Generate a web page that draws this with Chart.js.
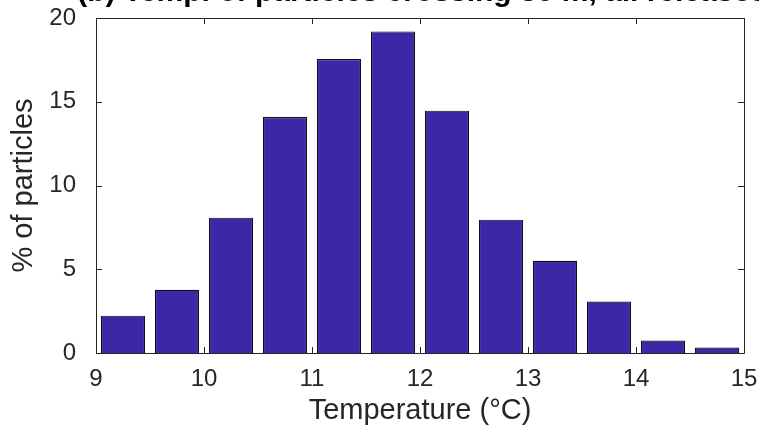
<!DOCTYPE html>
<html>
<head>
<meta charset="utf-8">
<script src="https://cdn.jsdelivr.net/npm/chart.js@4"></script>
<style>
  html, body { margin: 0; padding: 0; background: #fff; }
  #wrap { width: 759px; height: 434px; }
</style>
</head>
<body>
<div id="wrap"><canvas id="tempChart"></canvas></div>
<script>
// histogram bins (centre of each 0.5 °C bin) and % of particles
const binCenters = [9.25, 9.75, 10.25, 10.75, 11.25, 11.75, 12.25, 12.75, 13.25, 13.75, 14.25, 14.75];
const percentParticles = [2.23, 3.78, 8.08, 14.09, 17.55, 19.2, 14.47, 7.96, 5.51, 3.07, 0.75, 0.33];
const xTicks = [9, 10, 11, 12, 13, 14, 15];
const yTicks = [0, 5, 10, 15, 20];
const titleText = '(b) Temp. of particles crossing 30 m, all releases';

const axisColor = '#262626';
const fontFamily = '"Liberation Sans", Arial, Helvetica, sans-serif';

// MATLAB style box with inward ticks, plus a title clipped at the top
const boxTicksPlugin = {
    id: 'boxTicks',
    afterDraw(chart) {
        const {ctx, chartArea: a, scales: {x, y}} = chart;
        const len = 6;
        ctx.save();
        ctx.strokeStyle = axisColor;
        ctx.lineWidth = 1;
        ctx.beginPath();
        ctx.rect(a.left + 0.5, a.top + 0.5, a.right - a.left, a.bottom - a.top);
        xTicks.forEach(v => {
            const px = Math.round(x.getPixelForValue(v)) + 0.5;
            ctx.moveTo(px, a.bottom); ctx.lineTo(px, a.bottom - len);
            ctx.moveTo(px, a.top); ctx.lineTo(px, a.top + len);
        });
        yTicks.forEach(v => {
            const py = Math.round(y.getPixelForValue(v)) + 0.5;
            ctx.moveTo(a.left, py); ctx.lineTo(a.left + len, py);
            ctx.moveTo(a.right, py); ctx.lineTo(a.right - len, py);
        });
        ctx.stroke();

        ctx.fillStyle = '#000';
        ctx.font = 'bold 30px ' + fontFamily;
        ctx.textAlign = 'center';
        ctx.textBaseline = 'alphabetic';
        ctx.fillText(titleText, (a.left + a.right) / 2 + 2, 1);
        ctx.restore();
    }
};

new Chart(document.getElementById('tempChart'), {
    type: 'bar',
    data: {
        datasets: [{
            data: binCenters.map((c, i) => ({x: c, y: percentParticles[i]})),
            backgroundColor: '#3c28a6',
            borderColor: '#111',
            borderWidth: 1.2,
            barPercentage: 0.82,
            categoryPercentage: 1.0
        }]
    },
    options: {
        responsive: true,
        maintainAspectRatio: false,
        animation: false,
        layout: { padding: 0 },
        plugins: {
            legend: { display: false },
            tooltip: { enabled: false }
        },
        scales: {
            x: {
                type: 'linear',
                min: 9,
                max: 15,
                offset: false,
                grid: { display: false, drawTicks: false },
                border: { display: false },
                afterBuildTicks: scale => { scale.ticks = xTicks.map(v => ({value: v})); },
                afterFit: scale => {
                    scale.height = 81;
                    scale.paddingRight = 15;
                },
                ticks: {
                    padding: 12,
                    color: axisColor,
                    font: { family: fontFamily, size: 24 }
                },
                title: {
                    display: true,
                    text: 'Temperature (°C)',
                    color: axisColor,
                    padding: { top: 6, bottom: 6 },
                    font: { family: fontFamily, size: 29 }
                }
            },
            y: {
                min: 0,
                max: 20,
                grid: { display: false, drawTicks: false },
                border: { display: false },
                afterBuildTicks: scale => { scale.ticks = yTicks.map(v => ({value: v})); },
                afterFit: scale => {
                    scale.width = 96;
                    scale.paddingTop = 18;
                },
                ticks: {
                    padding: 20,
                    color: axisColor,
                    font: { family: fontFamily, size: 24 }
                },
                title: {
                    display: true,
                    text: '% of particles',
                    color: axisColor,
                    padding: { top: 7, bottom: 7 },
                    font: { family: fontFamily, size: 29 }
                }
            }
        }
    },
    plugins: [boxTicksPlugin]
});
</script>
</body>
</html>
